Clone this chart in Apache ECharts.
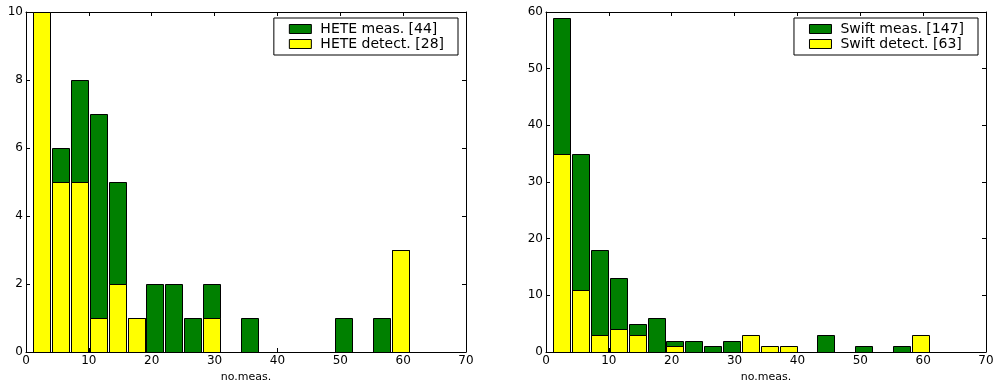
<!DOCTYPE html>
<html>
<head>
<meta charset="utf-8">
<script src="https://cdn.jsdelivr.net/npm/echarts@6/dist/echarts.min.js"></script>
<style>html,body{margin:0;padding:0;background:#fff}#c{width:994px;height:381px}</style>
</head>
<body>
<div id="c"></div>
<script>
// Histogram bin edges (start of each bin, width 3)
const binStarts = [1,4,7,10,13,16,19,22,25,28,31,34,37,40,43,46,49,52,55,58];
const binEnds   = [4,7,10,13,16,19,22,25,28,31,34,37,40,43,46,49,52,55,58,61];

const heteMeas   = [10,6,8,7,5,1,2,2,1,2,0,1,0,0,0,0,1,0,1,3];
const heteDetect = [10,5,5,1,2,1,0,0,0,1,0,0,0,0,0,0,0,0,0,3];
const swiftMeas   = [59,35,18,13,5,6,2,2,1,2,0,0,0,0,3,0,1,0,1,1];
const swiftDetect = [35,11,3,4,3,0,1,0,0,0,3,1,1,0,0,0,0,0,0,3];

const xTicksLabels = [0,10,20,30,40,50,60,70];

const GREEN = '#008000', YELLOW = '#ffff00';
const FONT = 'DejaVu Sans';

function mk(counts){
  const out = [];
  for (let i = 0; i < counts.length; i++) {
    if (counts[i] > 0) out.push([binStarts[i], binEnds[i], counts[i]]);
  }
  return out;
}

function renderBar(params, api){
  const x0 = api.value(0), x1 = api.value(1), y = api.value(2);
  const w = (x1 - x0) * 0.05;
  const p0 = api.coord([x0 + w, 0]);
  const p1 = api.coord([x1 - w, y]);
  return {
    type: 'rect',
    shape: {x: Math.round(p0[0]) + 0.5, y: Math.round(p1[1]) + 0.5,
            width: Math.round(p1[0] - p0[0]), height: Math.round(p0[1] - p1[1])},
    style: {fill: api.visual('color'), stroke: '#000', lineWidth: 1}
  };
}

function xAxisDef(grid, pos, showLabel){
  return {
    type: 'value', gridIndex: grid, position: pos, min: 0, max: 70, interval: 10,
    axisLine: {show: true, onZero: false, lineStyle: {color: '#000', width: 1}},
    axisTick: {show: true, inside: true, length: 4, lineStyle: {color: '#000'}},
    axisLabel: {show: showLabel, color: '#000', fontFamily: FONT, fontSize: 12, margin: 3,
                formatter: v => xTicksLabels.indexOf(v) >= 0 ? String(v) : ''},
    splitLine: {show: false},
    name: showLabel ? 'no.meas.' : '', nameLocation: 'middle', nameGap: 14,
    nameTextStyle: {color: '#000', fontFamily: FONT, fontSize: 11}
  };
}
function yAxisDef(grid, pos, max, interval, showLabel){
  return {
    type: 'value', gridIndex: grid, position: pos, min: 0, max: max, interval: interval,
    axisLine: {show: true, onZero: false, lineStyle: {color: '#000', width: 1}},
    axisTick: {show: true, inside: true, length: 4, lineStyle: {color: '#000'}},
    axisLabel: {show: showLabel, color: '#000', fontFamily: FONT, fontSize: 12, margin: 3},
    splitLine: {show: false}
  };
}

function legendDef(names, right){
  return {
    orient: 'vertical', right: right, top: 18, data: names.map(n => ({name: n})),
    itemWidth: 22, itemHeight: 9, itemGap: 1,
    backgroundColor: '#fff', borderColor: '#000', borderWidth: 1,
    padding: [4, 14, 4, 15],
    textStyle: {color: '#000', fontFamily: FONT, fontSize: 14, padding: [0, 0, 0, 4]},
    itemStyle: {borderColor: '#000', borderWidth: 1},
    icon: 'rect', selectedMode: false
  };
}

const chart = echarts.init(document.getElementById('c'), null, {renderer: 'canvas'});
chart.setOption({
  animation: false,
  backgroundColor: '#fff',
  grid: [
    {left: 26, top: 12, width: 440, height: 340, containLabel: false, outerBoundsMode: 'none'},
    {left: 546, top: 12, width: 440, height: 340, containLabel: false, outerBoundsMode: 'none'}
  ],
  xAxis: [xAxisDef(0, 'bottom', true), xAxisDef(1, 'bottom', true),
          xAxisDef(0, 'top', false), xAxisDef(1, 'top', false)],
  yAxis: [yAxisDef(0, 'left', 10, 2, true), yAxisDef(1, 'left', 60, 10, true),
          yAxisDef(0, 'right', 10, 2, false), yAxisDef(1, 'right', 60, 10, false)],
  legend: [legendDef(['HETE meas. [44]', 'HETE detect. [28]'], 994 - 458),
           legendDef(['Swift meas. [147]', 'Swift detect. [63]'], 994 - 978)],
  series: [
    {type: 'custom', name: 'HETE meas. [44]', xAxisIndex: 0, yAxisIndex: 0, clip: true,
     itemStyle: {color: GREEN}, encode: {x: [0, 1], y: 2}, data: mk(heteMeas), renderItem: renderBar},
    {type: 'custom', name: 'HETE detect. [28]', xAxisIndex: 0, yAxisIndex: 0, clip: true,
     itemStyle: {color: YELLOW}, encode: {x: [0, 1], y: 2}, data: mk(heteDetect), renderItem: renderBar},
    {type: 'custom', name: 'Swift meas. [147]', xAxisIndex: 1, yAxisIndex: 1, clip: true,
     itemStyle: {color: GREEN}, encode: {x: [0, 1], y: 2}, data: mk(swiftMeas), renderItem: renderBar},
    {type: 'custom', name: 'Swift detect. [63]', xAxisIndex: 1, yAxisIndex: 1, clip: true,
     itemStyle: {color: YELLOW}, encode: {x: [0, 1], y: 2}, data: mk(swiftDetect), renderItem: renderBar}
  ]
});
</script>
</body>
</html>
